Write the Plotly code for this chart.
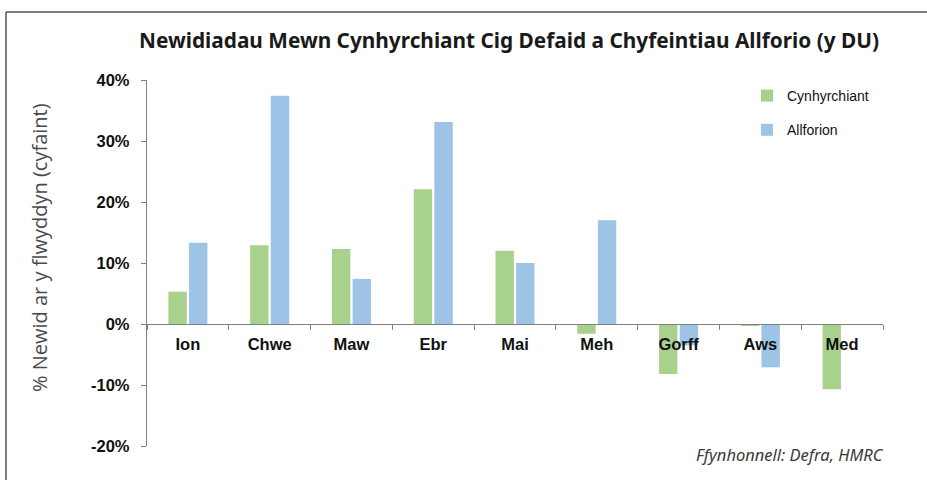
import plotly.graph_objects as go

months = ["Ion", "Chwe", "Maw", "Ebr", "Mai", "Meh", "Gorff", "Aws", "Med"]
cynhyrchiant = [5.3, 12.9, 12.3, 22.1, 12.0, -1.6, -8.2, -0.3, -10.7]
allforion = [13.3, 37.4, 7.4, 33.1, 10.0, 17.0, -3.5, -7.1, 0.0]
y_ticks = [-20, -10, 0, 10, 20, 30, 40]
y_tick_text = ["-20%", "-10%", "0%", "10%", "20%", "30%", "40%"]

W, H = 927, 480
L, R, T, B = 147, 44, 80, 34
pw, ph = W - L - R, H - T - B

def px(x):
    return (x - L) / pw

def py(y):
    return (H - B - y) / ph

fig = go.Figure()
fig.add_trace(go.Bar(x=months, y=cynhyrchiant, name="Cynhyrchiant",
                     marker=dict(color="#A9D18E", line=dict(width=0)),
                     legendgroup="a"))
fig.add_trace(go.Bar(x=months, y=allforion, name="Allforion",
                     marker=dict(color="#9DC3E6", line=dict(width=0)),
                     legendgroup="b"))

ymin, ymax = -20, 40
zero_pos = (0 - ymin) / (ymax - ymin)

fig.update_layout(
    width=W, height=H,
    margin=dict(l=L, r=R, t=T, b=B),
    paper_bgcolor="white", plot_bgcolor="white",
    barmode="group", bargap=0.495, bargroupgap=0.11,
    showlegend=True,
    legend=dict(x=px(747), y=py(80), xanchor="left", yanchor="top",
                font=dict(family="Liberation Sans, Arial", size=14, color="#111"),
                tracegroupgap=13, bgcolor="rgba(0,0,0,0)"),
    font=dict(family="Liberation Sans, Arial", color="#111"),
    xaxis=dict(
        anchor="free", position=zero_pos,
        showline=True, linecolor="#808080", linewidth=1.3,
        ticks="outside", ticklen=5, tickcolor="#808080", tickwidth=1.3,
        tickson="boundaries",
        tickfont=dict(family="Liberation Sans, Arial", size=16.5, color="#111", weight="bold"),
        ticklabelstandoff=5,
        showgrid=False, zeroline=False,
    ),
    yaxis=dict(
        range=[ymin, ymax], tickvals=y_ticks, ticktext=y_tick_text,
        showline=True, linecolor="#808080", linewidth=1.3,
        ticks="outside", ticklen=5, tickcolor="#808080", tickwidth=1.3,
        tickfont=dict(family="Liberation Sans, Arial", size=16.5, color="#111", weight="bold"),
        ticklabelstandoff=8,
        showgrid=False, zeroline=False,
    ),
)

fig.add_annotation(text="<b>Newidiadau Mewn Cynhyrchiant Cig Defaid a Chyfeintiau Allforio (y DU)</b>",
                   xref="paper", yref="paper", x=px(509), y=py(40),
                   xanchor="center", yanchor="middle", showarrow=False,
                   font=dict(family="Noto Sans", size=20.8, color="#1a1a1a"))

fig.add_annotation(text="% Newid ar y flwyddyn (cyfaint)",
                   xref="paper", yref="paper", x=px(40), y=py(248),
                   xanchor="center", yanchor="middle", textangle=-90, showarrow=False,
                   font=dict(family="Open Sans", size=20, color="#4a4a4a"))

fig.add_annotation(text="<i>Ffynhonnell: Defra, HMRC</i>",
                   xref="paper", yref="paper", x=px(886), y=py(455),
                   xanchor="right", yanchor="middle", showarrow=False,
                   font=dict(family="Noto Sans", size=16.5, color="#3a3a3a"))

# frame
fig.add_shape(type="line", xref="paper", yref="paper",
              x0=px(6), x1=px(6), y0=py(12), y1=py(481),
              line=dict(color="#555", width=1.5))
fig.add_shape(type="line", xref="paper", yref="paper",
              x0=px(6), x1=px(928), y0=py(12), y1=py(12),
              line=dict(color="#555", width=1.5))

fig.write_html("out.html", config={"displayModeBar": False},
               post_script="document.body.style.margin='0px';")
